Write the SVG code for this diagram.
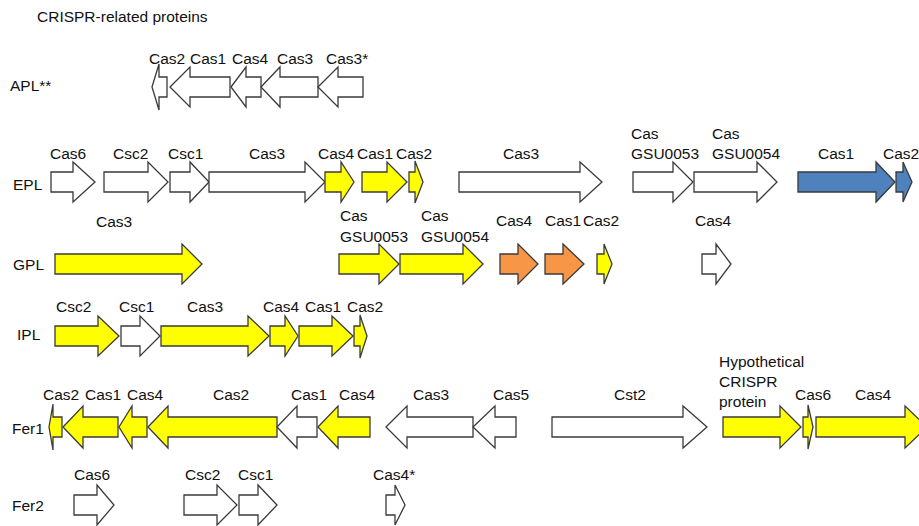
<svg xmlns="http://www.w3.org/2000/svg" width="919" height="526" viewBox="0 0 919 526">
<style>
text{font-family:"Liberation Sans",Arial,sans-serif;font-size:15.5px;fill:#111}
.g polygon{stroke:#3a3a3a;stroke-width:1.3;stroke-linejoin:miter}
.w{fill:#ffffff}
.y{fill:#ffff00}
.o{fill:#f79646}
.b{fill:#4f81bd}
</style>
<rect width="919" height="526" fill="#ffffff"/>
<text x="37" y="22">CRISPR-related proteins</text>

<g id="row-labels">
<text x="10" y="91">APL**</text>
<text x="13" y="190">EPL</text>
<text x="13" y="270">GPL</text>
<text x="17" y="340">IPL</text>
<text x="12" y="434">Fer1</text>
<text x="12" y="511">Fer2</text>
</g>

<g id="connectors"></g>

<!-- APL row: center 87, left-pointing -->
<g id="apl-cas2" class="g"><polygon class="w" points="152,87 159,64 159,77 167,77 167,97 159,97 159,110"/><text x="149" y="64">Cas2</text></g>
<g id="apl-cas1" class="g"><polygon class="w" points="170,87 190,67 190,77 230,77 230,97 190,97 190,107"/><text x="190" y="64">Cas1</text></g>
<g id="apl-cas4" class="g"><polygon class="w" points="231,87 246,67 246,77 261,77 261,97 246,97 246,107"/><text x="232" y="64">Cas4</text></g>
<g id="apl-cas3" class="g"><polygon class="w" points="261,87 280,67 280,77 318,77 318,97 280,97 280,107"/><text x="277" y="64">Cas3</text></g>
<g id="apl-cas3s" class="g"><polygon class="w" points="318,87 338,67 338,77 363,77 363,97 338,97 338,107"/><text x="326" y="64">Cas3*</text></g>

<!-- EPL row: center 182 -->
<g id="epl-cas6" class="g"><polygon class="w" points="51,172 73,172 73,162 95,182 73,202 73,192 51,192"/><text x="50" y="159">Cas6</text></g>
<g id="epl-csc2" class="g"><polygon class="w" points="104,172 148,172 148,162 168,182 148,202 148,192 104,192"/><text x="113" y="159">Csc2</text></g>
<g id="epl-csc1" class="g"><polygon class="w" points="170,172 190,172 190,162 209,182 190,202 190,192 170,192"/><text x="168" y="159">Csc1</text></g>
<g id="epl-cas3" class="g"><polygon class="w" points="209,172 305,172 305,162 325,182 305,202 305,192 209,192"/><text x="249" y="159">Cas3</text></g>
<g id="epl-cas4" class="g"><polygon class="y" points="325,172 341,172 341,162 354,182 341,202 341,192 325,192"/><text x="318" y="159">Cas4</text></g>
<g id="epl-cas1" class="g"><polygon class="y" points="362,172 387,172 387,162 407,182 387,202 387,192 362,192"/><text x="357" y="159">Cas1</text></g>
<g id="epl-cas2" class="g"><polygon class="y" points="409,172 415,172 415,161 423,182 415,203 415,192 409,192"/><text x="396" y="159">Cas2</text></g>
<g id="epl-cas3b" class="g"><polygon class="w" points="459,172 580,172 580,162 602,182 580,202 580,192 459,192"/><text x="503" y="159">Cas3</text></g>
<g id="epl-gsu0053" class="g"><polygon class="w" points="633,172 673,172 673,162 693,182 673,202 673,192 633,192"/><text x="631" y="139">Cas</text><text x="631" y="159">GSU0053</text></g>
<g id="epl-gsu0054" class="g"><polygon class="w" points="694,172 757,172 757,162 777,182 757,202 757,192 694,192"/><text x="712" y="139">Cas</text><text x="712" y="159">GSU0054</text></g>
<g id="epl-cas1b" class="g"><polygon class="b" points="798,172 876,172 876,162 895,182 876,202 876,192 798,192"/><text x="818" y="159">Cas1</text></g>
<g id="epl-cas2b" class="g"><polygon class="b" points="896,172 903,172 903,162 912,182 903,202 903,192 896,192"/><text x="883" y="159">Cas2</text></g>

<!-- GPL row: center 264 -->
<g id="gpl-cas3" class="g"><polygon class="y" points="55,254 182,254 182,244 202,264 182,284 182,274 55,274"/><text x="96" y="227">Cas3</text></g>
<g id="gpl-gsu0053" class="g"><polygon class="y" points="339,254 379,254 379,244 399,264 379,284 379,274 339,274"/><text x="340" y="221">Cas</text><text x="340" y="242">GSU0053</text></g>
<g id="gpl-gsu0054" class="g"><polygon class="y" points="400,254 463,254 463,244 483,264 463,284 463,274 400,274"/><text x="421" y="221">Cas</text><text x="421" y="242">GSU0054</text></g>
<g id="gpl-cas4" class="g"><polygon class="o" points="500,254 518,254 518,244 538,264 518,284 518,274 500,274"/><text x="496" y="226">Cas4</text></g>
<g id="gpl-cas1" class="g"><polygon class="o" points="545,254 563,254 563,244 584,264 563,284 563,274 545,274"/><text x="545" y="226">Cas1</text></g>
<g id="gpl-cas2" class="g"><polygon class="y" points="597,254 604,254 604,244 612,264 604,284 604,274 597,274"/><text x="583" y="226">Cas2</text></g>
<g id="gpl-cas4b" class="g"><polygon class="w" points="702,254 716,254 716,244 731,264 716,284 716,274 702,274"/><text x="695" y="226">Cas4</text></g>

<!-- IPL row: center 336 -->
<g id="ipl-csc2" class="g"><polygon class="y" points="55,326 98,326 98,316 119,336 98,356 98,346 55,346"/><text x="56" y="312">Csc2</text></g>
<g id="ipl-csc1" class="g"><polygon class="w" points="121,326 140,326 140,316 160,336 140,356 140,346 121,346"/><text x="119" y="312">Csc1</text></g>
<g id="ipl-cas3" class="g"><polygon class="y" points="161,326 248,326 248,316 269,336 248,356 248,346 161,346"/><text x="187" y="312">Cas3</text></g>
<g id="ipl-cas4" class="g"><polygon class="y" points="270,326 285,326 285,316 298,336 285,356 285,346 270,346"/><text x="263" y="312">Cas4</text></g>
<g id="ipl-cas1" class="g"><polygon class="y" points="299,326 332,326 332,316 353,336 332,356 332,346 299,346"/><text x="305" y="312">Cas1</text></g>
<g id="ipl-cas2" class="g"><polygon class="y" points="354,326 360,326 360,315 367,336 360,358 360,346 354,346"/><text x="347" y="312">Cas2</text></g>

<!-- Fer1 row: center 427 -->
<g id="fer1-cas2" class="g"><polygon class="y" points="49,427 53,404 53,417 62,417 62,437 53,437 53,450"/><text x="43" y="400">Cas2</text></g>
<g id="fer1-cas1" class="g"><polygon class="y" points="63,427 83,406 83,417 118,417 118,437 83,437 83,448"/><text x="85" y="400">Cas1</text></g>
<g id="fer1-cas4" class="g"><polygon class="y" points="119,427 132,406 132,417 147,417 147,437 132,437 132,448"/><text x="127" y="400">Cas4</text></g>
<g id="fer1-cas2b" class="g"><polygon class="y" points="148,427 168,406 168,417 277,417 277,437 168,437 168,448"/><text x="213" y="400">Cas2</text></g>
<g id="fer1-cas1b" class="g"><polygon class="w" points="277,427 297,406 297,417 317,417 317,437 297,437 297,448"/><text x="291" y="400">Cas1</text></g>
<g id="fer1-cas4b" class="g"><polygon class="y" points="318,427 338,406 338,417 370,417 370,437 338,437 338,448"/><text x="339" y="400">Cas4</text></g>
<g id="fer1-cas3" class="g"><polygon class="w" points="386,427 407,406 407,417 473,417 473,437 407,437 407,448"/><text x="413" y="400">Cas3</text></g>
<g id="fer1-cas5" class="g"><polygon class="w" points="473,427 495,406 495,417 516,417 516,437 495,437 495,448"/><text x="493" y="400">Cas5</text></g>
<g id="fer1-cst2" class="g"><polygon class="w" points="552,417 683,417 683,406 707,427 683,448 683,437 552,437"/><text x="614" y="400">Cst2</text></g>
<g id="fer1-hyp" class="g"><polygon class="y" points="723,417 780,417 780,406 801,427 780,448 780,437 723,437"/><text x="719" y="367">Hypothetical</text><text x="719" y="387">CRISPR</text><text x="719" y="407">protein</text></g>
<g id="fer1-cas6" class="g"><polygon class="y" points="803,417 808,417 808,405 813,427 808,449 808,437 803,437"/><text x="795" y="400">Cas6</text></g>
<g id="fer1-cas4c" class="g"><polygon class="y" points="816,417 905,417 905,406 927,427 905,448 905,437 816,437"/><text x="855" y="400">Cas4</text></g>

<!-- Fer2 row: center 505 -->
<g id="fer2-cas6" class="g"><polygon class="w" points="74,495 97,495 97,485 114,505 97,525 97,515 74,515"/><text x="74" y="480">Cas6</text></g>
<g id="fer2-csc2" class="g"><polygon class="w" points="184,495 217,495 217,485 237,505 217,525 217,515 184,515"/><text x="185" y="480">Csc2</text></g>
<g id="fer2-csc1" class="g"><polygon class="w" points="239,495 258,495 258,485 277,505 258,525 258,515 239,515"/><text x="238" y="480">Csc1</text></g>
<g id="fer2-cas4s" class="g"><polygon class="w" points="386,495 395,495 395,485 405,505 395,525 395,515 386,515"/><text x="373" y="480">Cas4*</text></g>
</svg>
